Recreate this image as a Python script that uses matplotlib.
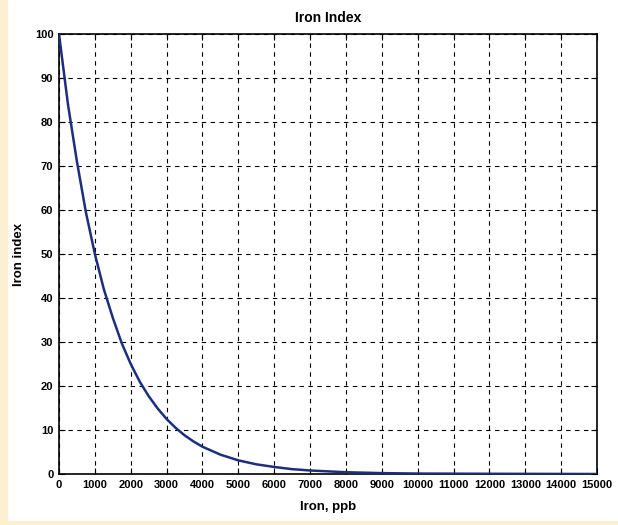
import matplotlib
matplotlib.use('Agg')
import matplotlib.pyplot as plt
from matplotlib.patches import Rectangle

plt.rcParams['font.family'] = ['Liberation Sans Narrow', 'Liberation Sans', 'DejaVu Sans']

# values
iron_ppb = [0, 250, 500, 750, 1000, 1250, 1500, 1750, 2000, 2250, 2500, 2750,
            3000, 3250, 3500, 3750, 4000, 4500, 5000, 5500, 6000, 6500, 7000,
            7500, 8000, 8500, 9000, 10000, 12000, 15000]
iron_index = [100, 84, 71, 59.5, 50, 42, 35.5, 29.7, 25, 21, 17.7, 14.9,
              12.5, 10.5, 8.8, 7.4, 6.2, 4.4, 3.1, 2.2, 1.6, 1.1, 0.8,
              0.6, 0.4, 0.3, 0.2, 0.1, 0.05, 0.0]

x_ticks = list(range(0, 15001, 1000))
y_ticks = list(range(0, 101, 10))

fig = plt.figure(figsize=(6.18, 5.25), dpi=100)
fig.patch.set_facecolor('white')
# cream border strips
fig.patches.append(Rectangle((0, 0), 7 / 618, 1, transform=fig.transFigure,
                             color='#fdf0d2', zorder=-5))
fig.patches.append(Rectangle((0, 0), 1, 4 / 525, transform=fig.transFigure,
                             color='#fdf0d2', zorder=-5))

ax = fig.add_axes([59 / 618, 51 / 525, 538 / 618, 440 / 525])
ax.plot(iron_ppb, iron_index, color='#1b2f7e', linewidth=1.8, zorder=3)

ax.set_xlim(0, 15000)
ax.set_ylim(0, 100)
ax.set_xticks(x_ticks)
ax.set_yticks(y_ticks)
ax.tick_params(direction='in', length=4, width=0.8, top=True, right=True,
               labelsize=8, pad=4)
for lab in ax.get_xticklabels() + ax.get_yticklabels():
    lab.set_fontweight('bold')
ax.grid(True, color='black', linestyle=(0, (4, 4)), linewidth=0.8)
for sp in ax.spines.values():
    sp.set_linewidth(1.2)

ax.set_title('Iron Index', fontsize=10, fontweight='bold', pad=9)
ax.set_xlabel('Iron, ppb', fontsize=9.5, fontweight='bold', labelpad=8)
ax.set_ylabel('Iron index', fontsize=9.5, fontweight='bold', labelpad=7)

fig.savefig('out.png', dpi=100)
